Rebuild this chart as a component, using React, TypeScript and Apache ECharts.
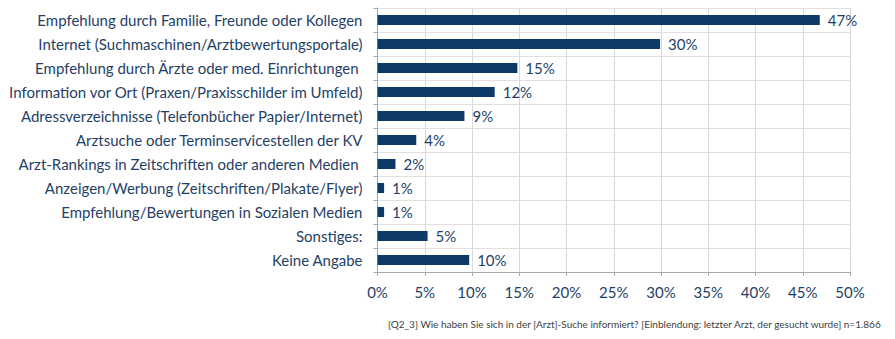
import React, { useEffect, useRef } from "react";
import * as echarts from "echarts";

const categories = [
  "Empfehlung durch Familie, Freunde oder Kollegen",
  "Internet (Suchmaschinen/Arztbewertungsportale)",
  "Empfehlung durch Ärzte oder med. Einrichtungen ",
  "Information vor Ort (Praxen/Praxisschilder im Umfeld)",
  "Adressverzeichnisse (Telefonbücher Papier/Internet)",
  "Arztsuche oder Terminservicestellen der KV",
  "Arzt-Rankings in Zeitschriften oder anderen Medien ",
  "Anzeigen/Werbung (Zeitschriften/Plakate/Flyer)",
  "Empfehlung/Bewertungen in Sozialen Medien",
  "Sonstiges:",
  "Keine Angabe",
];
const values = [46.8, 29.9, 14.8, 12.4, 9.2, 4.1, 1.9, 0.7, 0.7, 5.3, 9.7];
const footnote =
  "[Q2_3] Wie haben Sie sich in der [Arzt]-Suche informiert? [Einblendung: letzter Arzt, der gesucht wurde] n=1.866";

export default function App() {
  const ref = useRef<HTMLDivElement>(null);
  useEffect(() => {
    document.body.style.margin = "0";
    const chart = echarts.init(ref.current!, null, { renderer: "svg" });
    const textColor = "#1f3f66";
    chart.setOption({
      animation: false,
      backgroundColor: "#ffffff",
      grid: { left: 377.5, right: 45, top: 8, bottom: 67 },
      xAxis: {
        type: "value",
        min: 0,
        max: 50,
        interval: 5,
        axisLine: { show: true, lineStyle: { color: "#a6a6a6" } },
        axisTick: { show: true, length: 4, lineStyle: { color: "#a6a6a6" } },
        axisLabel: {
          formatter: "{value}%",
          color: textColor,
          fontFamily: "Lato",
          fontSize: 15,
          margin: 12,
        },
        splitLine: { show: true, lineStyle: { color: "#d9d9d9" } },
      },
      yAxis: {
        type: "category",
        data: categories,
        inverse: true,
        axisLine: { show: true, lineStyle: { color: "#a6a6a6" } },
        axisTick: { show: true, length: 4, lineStyle: { color: "#a6a6a6" } },
        axisLabel: {
          color: textColor,
          fontFamily: "Lato",
          fontSize: 15,
          margin: 15,
        },
        splitLine: { show: true, lineStyle: { color: "#e0e0e0" } },
      },
      series: [
        {
          type: "bar",
          data: values,
          barWidth: 10,
          itemStyle: { color: "#0e3a67" },
          label: {
            show: true,
            position: "right",
            distance: 8,
            color: textColor,
            fontFamily: "Lato",
            fontSize: 15,
            formatter: (p: any) => Math.round(p.value) + "%",
          },
        },
      ],
      graphic: [
        {
          type: "text",
          right: 13,
          top: 319,
          style: {
            text: footnote,
            fill: "#404040",
            fontFamily: "Lato",
            fontSize: 10,
          },
        },
      ],
    });
    return () => chart.dispose();
  }, []);
  return <div ref={ref} style={{ width: 895, height: 339 }} />;
}
